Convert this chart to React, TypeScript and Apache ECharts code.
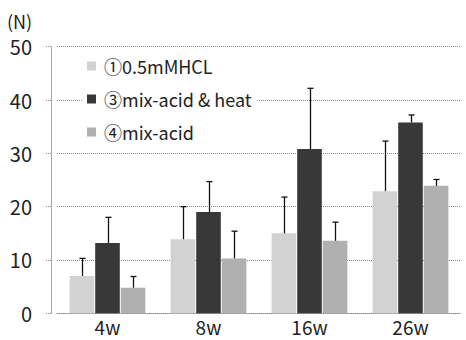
import React, { useEffect, useRef } from "react";
import * as echarts from "echarts";

const categories = ["4w", "8w", "16w", "26w"];
const seriesNames = ["①0.5mMHCL", "③mix-acid & heat", "④mix-acid"];
const means = [
  [7.0, 13.9, 15.0, 22.9],
  [13.2, 19.0, 30.8, 35.8],
  [4.8, 10.3, 13.6, 23.9],
];
const uppers = [
  [10.3, 20.0, 21.8, 32.3],
  [18.0, 24.7, 42.2, 37.2],
  [6.9, 15.4, 17.1, 25.1],
];
const yTicks = { min: 0, max: 50, interval: 10 };
const colors = ["#d2d2d2", "#383838", "#b0b0b0"];

const FONT = "'Noto Sans CJK JP', 'Noto Sans', sans-serif";

export default function App() {
  const ref = useRef<HTMLDivElement>(null);
  useEffect(() => {
    if (!ref.current) return;
    const chart = echarts.init(ref.current, null, { renderer: "svg" });
    const n = seriesNames.length;
    const catGap = 0.25;
    const barGap = 0.04;
    const bars = seriesNames.map((name, i) => ({
      name,
      type: "bar",
      data: means[i],
      barCategoryGap: "25%",
      barGap: "4%",
      itemStyle: { color: colors[i] },
      z: 2,
    }));
    const errs = seriesNames.map((name, i) => ({
      name: name + "_err",
      type: "custom",
      z: 3,
      data: categories.map((_, j) => [j, means[i][j], uppers[i][j]]),
      renderItem: (params: any, api: any) => {
        const band = api.size([1, 0])[0];
        const bw = (band * (1 - catGap)) / (n + (n - 1) * barGap);
        const off = (i - (n - 1) / 2) * bw * (1 + barGap);
        const lo = api.coord([api.value(0), api.value(1)]);
        const hi = api.coord([api.value(0), api.value(2)]);
        const x = Math.round(lo[0] + off) + 0.5;
        const style = { stroke: "#111", lineWidth: 1.3 };
        return {
          type: "group",
          children: [
            { type: "line", shape: { x1: x, y1: lo[1], x2: x, y2: hi[1] }, style },
            { type: "line", shape: { x1: x - 3, y1: hi[1], x2: x + 3, y2: hi[1] }, style },
          ],
        };
      },
    }));
    chart.setOption({
      animation: false,
      backgroundColor: "#fff",
      textStyle: { fontFamily: FONT },
      grid: { left: 57, right: 5, top: 46.7, bottom: 26.7, containLabel: false },
      legend: {
        data: seriesNames,
        orient: "vertical",
        left: 82,
        top: 50,
        itemWidth: 9,
        itemHeight: 9,
        itemGap: 11,
        backgroundColor: "#fff",
        padding: [5, 6, 5, 5],
        icon: "rect",
        textStyle: { fontSize: 18, color: "#222", fontFamily: FONT, lineHeight: 22, padding: [0, 0, 0, 3] },
      },
      graphic: [
        {
          type: "text",
          left: 7,
          top: 12,
          style: { text: "(N)", fontSize: 18, fill: "#222", fontFamily: FONT },
        },
      ],
      xAxis: {
        type: "category",
        data: categories,
        axisLine: { show: true, lineStyle: { color: "#888", type: "dotted" } },
        axisTick: { show: false },
        axisLabel: { fontSize: 19, color: "#222", margin: 4, lineHeight: 19, fontFamily: FONT },
      },
      yAxis: {
        type: "value",
        min: yTicks.min,
        max: yTicks.max,
        interval: yTicks.interval,
        offset: 6,
        axisLine: { show: true, lineStyle: { color: "#999", type: "dotted" } },
        axisTick: { show: true, length: 6, lineStyle: { color: "#888", type: "dotted" } },
        splitLine: { show: true, lineStyle: { color: "#888", type: "dotted" } },
        axisLabel: { fontSize: 20, color: "#222", margin: 19, fontFamily: FONT },
      },
      series: [...bars, ...errs],
    });
    return () => chart.dispose();
  }, []);
  return <div ref={ref} style={{ width: 466, height: 340, position: "absolute", left: 0, top: 0 }} />;
}
